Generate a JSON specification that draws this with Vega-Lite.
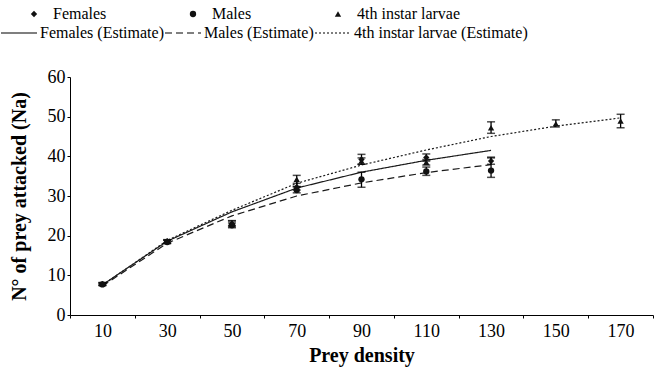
{
  "$schema": "https://vega.github.io/schema/vega-lite/v6.json",
  "width": 583,
  "height": 238,
  "autosize": {"type": "none"},
  "padding": {"left": 70, "top": 77, "right": 4, "bottom": 54},
  "background": "white",
  "config": {
    "view": {"stroke": null},
    "font": "Liberation Serif",
    "axis": {
      "grid": false,
      "domainColor": "black",
      "tickColor": "black",
      "labelColor": "black",
      "titleColor": "black",
      "labelFont": "Liberation Serif",
      "titleFont": "Liberation Serif",
      "labelFontSize": 18,
      "titleFontSize": 20,
      "titleFontWeight": "bold",
      "tickSize": 3,
      "domainWidth": 1,
      "tickWidth": 1
    },
    "legend": {
      "labelFont": "Liberation Serif",
      "labelFontSize": 16,
      "labelColor": "black",
      "padding": 0,
      "orient": "none"
    }
  },
  "data": {
    "values": [
      {"group": "Females", "fit": "Females (Estimate)", "density": 10, "value": 7.8, "low": 7.5, "high": 8.1, "estimate": 7.6},
      {"group": "Females", "fit": "Females (Estimate)", "density": 30, "value": 18.6, "low": 18.2, "high": 19.0, "estimate": 18.6},
      {"group": "Females", "fit": "Females (Estimate)", "density": 50, "value": 23.0, "low": 22.3, "high": 23.7, "estimate": 26.0},
      {"group": "Females", "fit": "Females (Estimate)", "density": 70, "value": 32.3, "low": 31.5, "high": 33.2, "estimate": 32.0},
      {"group": "Females", "fit": "Females (Estimate)", "density": 90, "value": 39.2, "low": 38.0, "high": 40.5, "estimate": 36.0},
      {"group": "Females", "fit": "Females (Estimate)", "density": 110, "value": 39.7, "low": 38.8, "high": 40.6, "estimate": 39.0},
      {"group": "Females", "fit": "Females (Estimate)", "density": 130, "value": 38.8, "low": 38.0, "high": 39.6, "estimate": 41.5},
      {"group": "Males", "fit": "Males (Estimate)", "density": 10, "value": 7.7, "low": 7.4, "high": 8.0, "estimate": 7.3},
      {"group": "Males", "fit": "Males (Estimate)", "density": 30, "value": 18.4, "low": 18.0, "high": 18.8, "estimate": 18.1},
      {"group": "Males", "fit": "Males (Estimate)", "density": 50, "value": 22.6, "low": 22.0, "high": 23.2, "estimate": 25.0},
      {"group": "Males", "fit": "Males (Estimate)", "density": 70, "value": 31.5, "low": 30.8, "high": 32.3, "estimate": 30.0},
      {"group": "Males", "fit": "Males (Estimate)", "density": 90, "value": 34.2, "low": 32.2, "high": 36.0, "estimate": 33.3},
      {"group": "Males", "fit": "Males (Estimate)", "density": 110, "value": 36.2, "low": 35.2, "high": 37.3, "estimate": 35.9},
      {"group": "Males", "fit": "Males (Estimate)", "density": 130, "value": 36.4, "low": 34.7, "high": 39.8, "estimate": 37.9},
      {"group": "4th instar larvae", "fit": "4th instar larvae (Estimate)", "density": 10, "value": 7.9, "low": 7.6, "high": 8.2, "estimate": 7.5},
      {"group": "4th instar larvae", "fit": "4th instar larvae (Estimate)", "density": 30, "value": 18.5, "low": 18.1, "high": 18.9, "estimate": 18.8},
      {"group": "4th instar larvae", "fit": "4th instar larvae (Estimate)", "density": 50, "value": 23.2, "low": 22.6, "high": 23.8, "estimate": 26.4},
      {"group": "4th instar larvae", "fit": "4th instar larvae (Estimate)", "density": 70, "value": 34.2, "low": 32.4, "high": 35.2, "estimate": 33.2},
      {"group": "4th instar larvae", "fit": "4th instar larvae (Estimate)", "density": 90, "value": 38.8, "low": 38.0, "high": 39.6, "estimate": 37.8},
      {"group": "4th instar larvae", "fit": "4th instar larvae (Estimate)", "density": 110, "value": 38.5, "low": 37.8, "high": 39.2, "estimate": 41.6},
      {"group": "4th instar larvae", "fit": "4th instar larvae (Estimate)", "density": 130, "value": 47.2, "low": 45.8, "high": 48.7, "estimate": 45.0},
      {"group": "4th instar larvae", "fit": "4th instar larvae (Estimate)", "density": 150, "value": 48.2, "low": 47.4, "high": 49.2, "estimate": 47.6},
      {"group": "4th instar larvae", "fit": "4th instar larvae (Estimate)", "density": 170, "value": 48.9, "low": 47.2, "high": 50.6, "estimate": 49.7}
    ]
  },
  "encoding": {
    "x": {
      "field": "density",
      "type": "ordinal",
      "scale": {"type": "band", "paddingInner": 0, "paddingOuter": 0},
      "axis": {"title": "Prey density", "labelAngle": 0, "tickBand": "extent", "labelPadding": 4, "titlePadding": 5}
    }
  },
  "layer": [
    {
      "mark": {"type": "line", "color": "#1a1a1a", "strokeWidth": 1.2},
      "encoding": {
        "y": {
          "field": "estimate",
          "type": "quantitative",
          "scale": {"domain": [0, 60], "nice": false},
          "axis": {"title": "N° of prey attacked (Na)", "values": [0, 10, 20, 30, 40, 50, 60], "titlePadding": 18, "labelPadding": 2}
        },
        "strokeDash": {
          "field": "fit",
          "type": "nominal",
          "scale": {"domain": ["Females (Estimate)", "Males (Estimate)", "4th instar larvae (Estimate)"], "range": [[1, 0], [7, 4], [2, 2]]},
          "legend": {
            "title": null,
            "orient": "none",
            "legendX": -70,
            "legendY": -63,
            "direction": "horizontal",
            "columns": 3,
            "columnPadding": -4,
            "symbolType": "stroke",
            "symbolSize": 1296,
            "symbolStrokeWidth": 1.2,
            "symbolStrokeColor": "black",
            "labelOffset": 2,
            "labelLimit": 300
          }
        }
      }
    },
    {
      "mark": {"type": "rule", "color": "black", "strokeWidth": 1.3},
      "encoding": {
        "y": {"field": "low", "type": "quantitative", "axis": {"title": "N° of prey attacked (Na)", "values": [0, 10, 20, 30, 40, 50, 60], "titlePadding": 18, "labelPadding": 2}},
        "y2": {"field": "high"},
        "detail": {"field": "group"}
      }
    },
    {
      "mark": {"type": "tick", "color": "black", "size": 8, "thickness": 1.5},
      "encoding": {"y": {"field": "low", "type": "quantitative", "axis": {"title": "N° of prey attacked (Na)", "values": [0, 10, 20, 30, 40, 50, 60], "titlePadding": 18, "labelPadding": 2}}, "detail": {"field": "group"}}
    },
    {
      "mark": {"type": "tick", "color": "black", "size": 8, "thickness": 1.5},
      "encoding": {"y": {"field": "high", "type": "quantitative", "axis": {"title": "N° of prey attacked (Na)", "values": [0, 10, 20, 30, 40, 50, 60], "titlePadding": 18, "labelPadding": 2}}, "detail": {"field": "group"}}
    },
    {
      "mark": {"type": "point", "filled": true, "color": "#111111", "opacity": 1, "size": 40},
      "encoding": {
        "y": {"field": "value", "type": "quantitative", "axis": {"title": "N° of prey attacked (Na)", "values": [0, 10, 20, 30, 40, 50, 60], "titlePadding": 18, "labelPadding": 2}},
        "shape": {
          "field": "group",
          "type": "nominal",
          "scale": {"domain": ["Females", "Males", "4th instar larvae"], "range": ["diamond", "circle", "triangle-up"]},
          "legend": {
            "title": null,
            "orient": "none",
            "legendX": -44,
            "legendY": -71,
            "direction": "horizontal",
            "columns": 3,
            "columnPadding": 78,
            "symbolSize": 40,
            "symbolFillColor": "black",
            "symbolStrokeColor": "black",
            "labelOffset": 11
          }
        }
      }
    }
  ]
}
